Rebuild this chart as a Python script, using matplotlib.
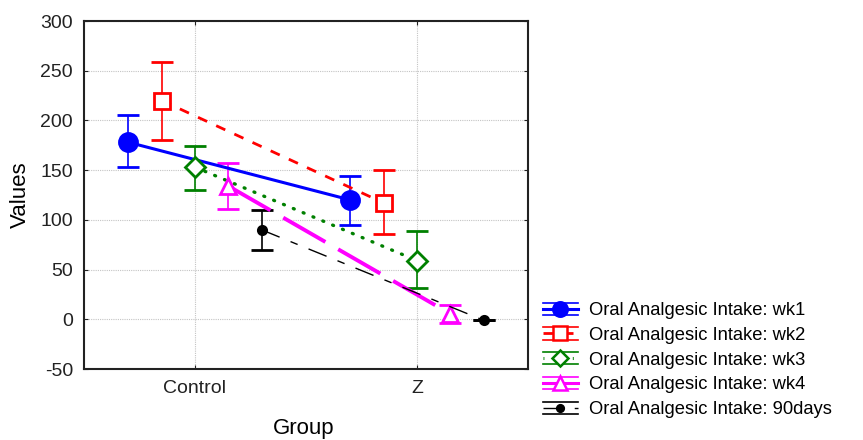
import numpy as np
import matplotlib
matplotlib.use('Agg')
import matplotlib.pyplot as plt
from matplotlib.lines import Line2D
from matplotlib.legend_handler import HandlerBase

plt.rcParams['font.family'] = ['Liberation Sans', 'DejaVu Sans']
plt.rcParams['axes.unicode_minus'] = False

groups = ['Control', 'Z']
series = ['Oral Analgesic Intake: wk1', 'Oral Analgesic Intake: wk2',
          'Oral Analgesic Intake: wk3', 'Oral Analgesic Intake: wk4',
          'Oral Analgesic Intake: 90days']
means = [[178, 120], [220, 117], [153, 59], [134, 5.5], [90, -1]]
lower = [[153.5, 95], [180, 86], [130.5, 31], [111, -3.5], [70, -1]]
upper = [[205.5, 144.5], [259, 150], [174, 89], [157.5, 14.5], [110, -1]]

colors = ['#0000ff', '#ff0000', '#008000', '#ff00ff', '#000000']
markers = ['o', 's', 'D', '^', 'o']
msizes = [13, 12, 10.5, 12, 6]
mfaces = ['#0000ff', 'white', 'white', 'white', '#000000']
styles = ['-', (0, (3.6, 3.6)), (0, (0.3, 2.9)), (0, (12.5, 3.8)), (0, (14, 8.5, 5.5, 8.5))]
widths = [2.2, 2.0, 2.4, 2.8, 1.0]
offsets = [-0.3, -0.15, 0.0, 0.15, 0.3]


class Key:
    def __init__(self, i):
        self.i = i


class KeyHandler(HandlerBase):
    # legend key: thin line above and below, series line with marker in the middle
    def create_artists(self, legend, orig, xd, yd, width, height, fontsize, trans):
        i = orig.i
        yc = height / 2 - yd
        x0, x1 = -xd, -xd + width
        off = 0.33 * fontsize
        arts = []
        for dy in (off, -off):
            arts.append(Line2D([x0, x1], [yc + dy, yc + dy], color=colors[i],
                               linewidth=1.2, transform=trans))
        ls = '-' if i in (0, 3) else styles[i]
        mid = Line2D([x0, x1], [yc, yc], color=colors[i], linestyle=ls,
                     linewidth=min(widths[i], 2.2), transform=trans)
        mk = Line2D([(x0 + x1) / 2], [yc], marker=markers[i], linestyle='none',
                    markersize=msizes[i] * 0.8, markerfacecolor=mfaces[i],
                    markeredgecolor=colors[i], markeredgewidth=1.8, transform=trans)
        arts += [mid, mk]
        return arts


fig = plt.figure(figsize=(8.63, 4.40), dpi=100)
ax = fig.add_axes([84 / 863, 71 / 440, 444 / 863, 348 / 440])

x = np.arange(len(groups))
for i in range(len(series)):
    xs = x + offsets[i]
    m = np.array(means[i])
    err = [m - np.array(lower[i]), np.array(upper[i]) - m]
    line, caps, bars = ax.errorbar(xs, m, yerr=err, color=colors[i], ecolor=colors[i],
                                   elinewidth=1.2, capsize=8, capthick=1.2,
                                   linestyle=styles[i], linewidth=widths[i],
                                   marker=markers[i], markersize=msizes[i],
                                   markerfacecolor=mfaces[i], markeredgecolor=colors[i],
                                   markeredgewidth=2, zorder=3)
    line.set_dash_capstyle('round' if i == 2 else 'butt')

ax.set_xlim(-0.5, 1.5)
ax.set_ylim(-50, 300)
ax.set_xticks(x)
ax.set_xticklabels(groups)
ax.set_yticks(np.arange(-50, 301, 50))
ax.grid(True, color='#c4c4c4', linestyle=(0, (1, 1)), linewidth=0.8)
ax.set_axisbelow(True)
ax.tick_params(direction='in', top=True, right=True, labelsize=14, length=3,
               color='#222222', labelcolor='#222222')
ax.tick_params(axis='y', pad=8)
ax.tick_params(axis='x', pad=8)
for s in ax.spines.values():
    s.set_linewidth(1.5)
    s.set_color('#222222')

ax.set_xlabel('Group', fontsize=16, va='center')
ax.set_ylabel('Values', fontsize=16, va='center')
ax.xaxis.set_label_coords(0.495, (369 - 428) / 348)
ax.yaxis.set_label_coords((20 - 84) / 444, 0.5)

keys = [Key(i) for i in range(len(series))]
ax.legend(keys, series, handler_map={Key: KeyHandler()},
          loc='lower left', bbox_to_anchor=(543 / 863, 22 / 440),
          bbox_transform=fig.transFigure, frameon=False, fontsize=13.2,
          handlelength=1.9, handletextpad=0.6, labelspacing=0.42,
          borderpad=0, borderaxespad=0)

plt.savefig('out.png', dpi=100)
